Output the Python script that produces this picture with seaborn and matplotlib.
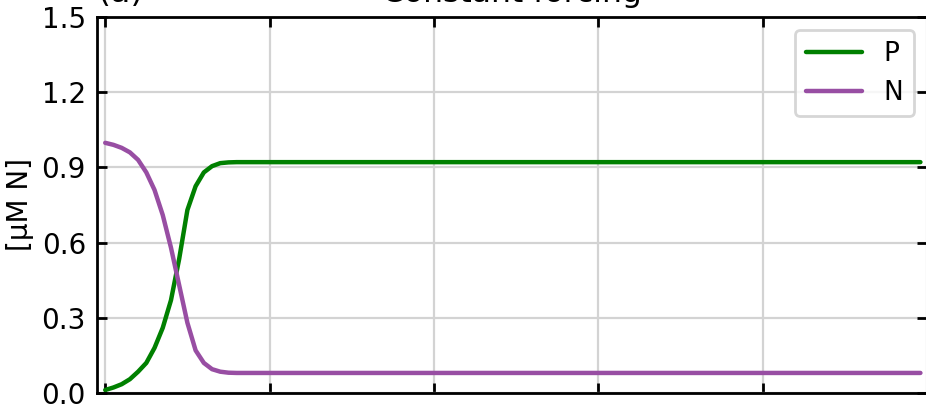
import numpy as np
import pandas as pd
import matplotlib
matplotlib.use('Agg')
import matplotlib.pyplot as plt
import seaborn as sns

# time (grid spacing = 1 unit)
t = [0.0, 0.05, 0.1, 0.15, 0.2, 0.25, 0.3, 0.35, 0.4, 0.45, 0.5, 0.55,
     0.6, 0.65, 0.7, 0.75, 0.8, 4.96]
P = [0.012, 0.022, 0.035, 0.055, 0.085, 0.12, 0.18, 0.26, 0.37, 0.535, 0.73,
     0.825, 0.88, 0.905, 0.917, 0.92, 0.921, 0.921]
N = [0.998, 0.99, 0.978, 0.96, 0.93, 0.88, 0.81, 0.71, 0.58, 0.43, 0.28,
     0.17, 0.12, 0.095, 0.085, 0.081, 0.08, 0.08]
yticks = [0.0, 0.3, 0.6, 0.9, 1.2, 1.5]
xticks = [0, 1, 2, 3, 4, 5]

df = pd.DataFrame({'t': t, 'P': P, 'N': N})

sns.set_style('ticks')
plt.rcParams['font.family'] = ['DejaVu Sans']
plt.rcParams.update({
    'axes.linewidth': 1.0,
    'axes.edgecolor': 'black',
    'text.color': 'black',
    'axes.labelcolor': 'black',
    'xtick.color': 'black',
    'ytick.color': 'black',
})

fig = plt.figure(figsize=(9.26 / 2, 4.04 / 2), dpi=200)
ax = fig.add_axes([97 / 926, 11 / 404, 830 / 926, 376 / 404])

sns.lineplot(data=df, x='t', y='P', ax=ax, color='green', lw=1.6, label='P')
sns.lineplot(data=df, x='t', y='N', ax=ax, color='#984ea3', lw=1.6, label='N')

ax.set_xlim(-0.05, 5.0)
ax.set_ylim(0, 1.5)
ax.set_xticks(xticks)
ax.set_xticklabels([])
ax.set_yticks(yticks)
ax.set_yticklabels([f'{v:.1f}' for v in yticks])
ax.tick_params(direction='in', top=True, right=True, labelsize=10, pad=4,
               width=1.0, length=3.5)
ax.grid(True, color='lightgray', lw=0.8)
ax.set_axisbelow(True)
ax.set_xlabel('')
ax.set_ylabel('[μM N]', fontsize=10, labelpad=2.8)
ax.set_title('Constant forcing', fontsize=11.3, pad=2.2)
ax.set_title('(a)', loc='left', fontsize=12, pad=5.5)
ax.legend(loc='upper right', fontsize=9.5, handlelength=2.15)

fig.savefig('out.png', dpi=200)
